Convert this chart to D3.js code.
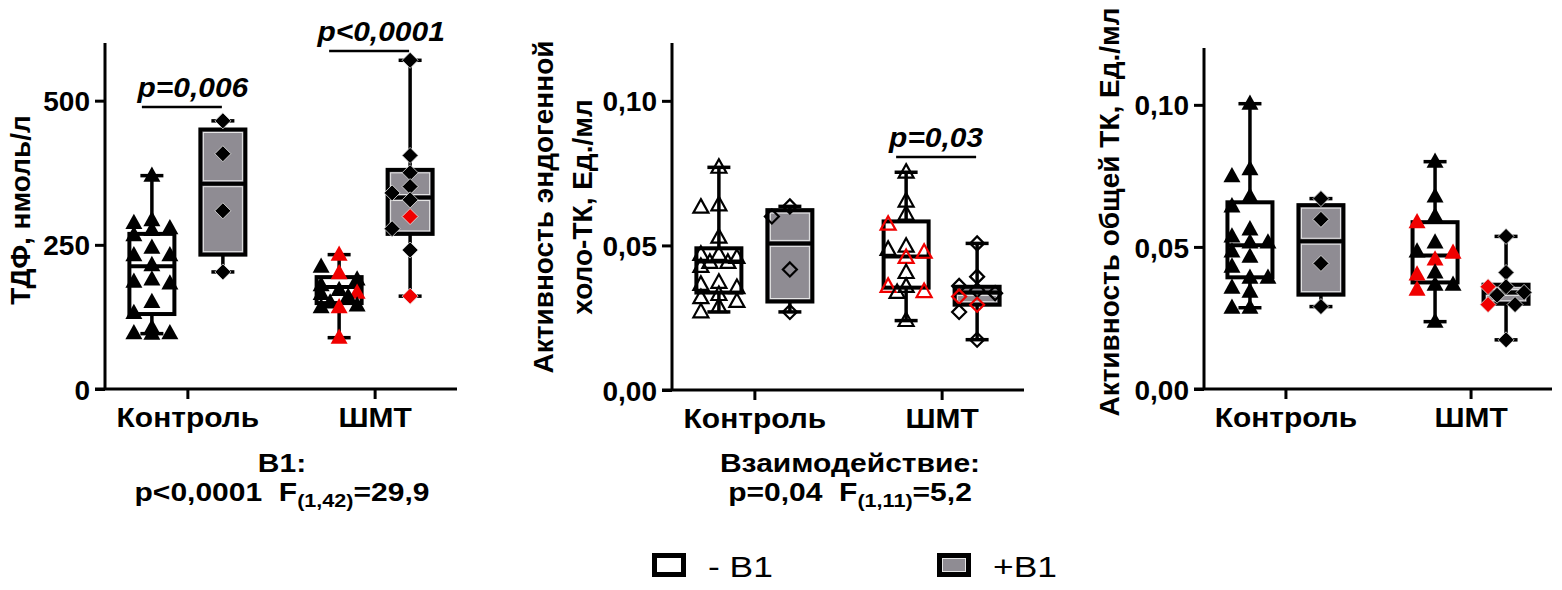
<!DOCTYPE html>
<html>
<head>
<meta charset="utf-8">
<script src="https://cdn.jsdelivr.net/npm/d3@7"></script>
<style>
  html, body { margin: 0; padding: 0; background: #fff; }
  svg { display: block; font-family: "Liberation Sans", Arial, Helvetica, sans-serif; }
</style>
</head>
<body>
<svg id="chart" width="1562" height="590"></svg>
<script>
// ---------------- DATA ----------------
const categories = ["Контроль", "ШМТ"];
const groups = ["-B1", "+B1"];

// Panel 1: ТДФ, нмоль/л
const tdfTicks = [0, 250, 500];
const tdfCtrlNoB1 = [370, 293, 288, 279, 276, 267, 245, 232, 232, 215, 190, 186, 183, 151, 132, 106, 97, 97, 96];
const tdfCtrlNoB1Red = [];
const tdfCtrlB1 = [465, 408, 309, 203];
const tdfCtrlB1Red = [];
const tdfShmtNoB1 = [212, 190, 180, 172, 165, 160, 150, 145, 142];
const tdfShmtNoB1Red = [233, 201, 167, 142, 89];
const tdfShmtB1 = [570, 405, 375, 351, 340, 328, 278, 241];
const tdfShmtB1Red = [299, 161];
// box stats: [min, q1, median, q3, max]
const tdfBoxCtrlNoB1 = [96, 130, 213, 269, 370];
const tdfBoxCtrlB1 = [203, 233, 356, 450, 465];
const tdfBoxShmtNoB1 = [89, 149, 177, 194, 233];
const tdfBoxShmtB1 = [161, 269, 332, 380, 570];

// Panel 2: активность эндогенной холо-ТК, Ед./мл
const tkTicks = [0, 0.05, 0.10];
const holoCtrlNoB1 = [0.077, 0.064, 0.0632, 0.0528, 0.0469, 0.0469, 0.0458, 0.0441, 0.0441, 0.0427, 0.0372, 0.0365, 0.0354, 0.033, 0.0319, 0.0306, 0.0288, 0.027];
const holoCtrlNoB1Red = [];
const holoCtrlB1 = [0.0635, 0.060, 0.0417, 0.027];
const holoCtrlB1Red = [];
const holoShmtNoB1 = [0.0753, 0.0653, 0.0608, 0.0497, 0.0486, 0.0406, 0.0358, 0.0337, 0.024];
const holoShmtNoB1Red = [0.0573, 0.0476, 0.0458, 0.0358, 0.034];
const holoShmtB1 = [0.0507, 0.0392, 0.036, 0.0345, 0.0335, 0.027, 0.0174];
const holoShmtB1Red = [0.0323, 0.0295];
const holoBoxCtrlNoB1 = [0.027, 0.0337, 0.0444, 0.049, 0.077];
const holoBoxCtrlB1 = [0.027, 0.0306, 0.0507, 0.0622, 0.0635];
const holoBoxShmtNoB1 = [0.024, 0.0354, 0.0462, 0.0583, 0.0753];
const holoBoxShmtB1 = [0.0174, 0.0295, 0.0337, 0.0357, 0.0507];

// Panel 3: активность общей ТК, Ед./мл
const totCtrlNoB1 = [0.1004, 0.0774, 0.0749, 0.0678, 0.0643, 0.0562, 0.0537, 0.0516, 0.0516, 0.0484, 0.0466, 0.0431, 0.0392, 0.0392, 0.0357, 0.0343, 0.0286, 0.0286];
const totCtrlNoB1Red = [];
const totCtrlB1 = [0.067, 0.0597, 0.0442, 0.029];
const totCtrlB1Red = [];
const totShmtNoB1 = [0.080, 0.0678, 0.0608, 0.0516, 0.0484, 0.041, 0.0367, 0.0367, 0.0237];
const totShmtNoB1Red = [0.0587, 0.048, 0.0456, 0.0403, 0.035];
const totShmtB1 = [0.0537, 0.041, 0.036, 0.034, 0.033, 0.0297, 0.0173];
const totShmtB1Red = [0.036, 0.0297];
const totBoxCtrlNoB1 = [0.0286, 0.0393, 0.0506, 0.0657, 0.1004];
const totBoxCtrlB1 = [0.029, 0.0332, 0.052, 0.0647, 0.067];
const totBoxShmtNoB1 = [0.0237, 0.0375, 0.047, 0.0587, 0.080];
const totBoxShmtB1 = [0.0173, 0.030, 0.034, 0.0367, 0.0537];

// ---------------- DRAWING ----------------
const svg = d3.select("#chart");
const GRAY = "#8f8c93";
const RED = "#f00000";
const FS = 28;      // main bold font size
const SX = 1.07;    // horizontal stretch of horizontal labels

function fmtComma(d, digits) { return d.toFixed(digits).replace(".", ","); }

function dodge(points, yScale) {
  const placed = [];
  const step = 9, maxOff = 22;
  const cands = [0];
  for (let k = 1; k * step <= maxOff + 0.1; k++) { cands.push(-k * step, k * step); }
  points.sort((a, b) => b.v - a.v).forEach(p => {
    const py = yScale(p.v);
    let best = 0, bestScore = Infinity;
    for (const c of cands) {
      let score = 0;
      for (const q of placed) {
        const dx = Math.abs(q.dx - c), dy = Math.abs(q.py - py);
        if (dx < 15 && dy < 13) score += (15 - dx) * (13 - dy);
      }
      if (score < bestScore - 1e-9) { bestScore = score; best = c; }
      if (score === 0) break;
    }
    p.dx = best; p.py = py;
    placed.push(p);
  });
  return points;
}

function markerPath(shape, size) {
  if (shape === "triangle") {
    const h = size * 0.9, w = size;
    return `M0,${-h * 0.6}L${w / 2},${h * 0.4}L${-w / 2},${h * 0.4}Z`;
  }
  const r = size / 2;
  return `M0,${-r}L${r},0L0,${r}L${-r},0Z`;
}

function drawPanel(cfg) {
  const g = svg.append("g");
  const y = d3.scaleLinear().domain(cfg.domain).range([cfg.y0, cfg.yTop]);
  const x = d3.scalePoint().domain(categories).range([cfg.x0, cfg.x1]).padding(0.44);
  const xs = d3.scaleBand().domain(groups).range([-58, 58]).paddingInner(0.366);
  const bw = xs.bandwidth();

  // axes
  const yAxis = d3.axisLeft(y).tickValues(cfg.ticks).tickSize(10).tickSizeOuter(0).tickPadding(5)
    .tickFormat(cfg.fmt);
  const ga = g.append("g").attr("transform", `translate(${cfg.x0},0)`).call(yAxis);
  ga.select(".domain").attr("d", `M0,${cfg.y0}V${cfg.yTop}`);
  const xAxis = d3.axisBottom(x).tickSize(10).tickSizeOuter(0).tickPadding(8);
  const gx = g.append("g").attr("transform", `translate(0,${cfg.y0})`).call(xAxis);
  gx.select(".domain").attr("d", `M${cfg.x0 - 10},0H${cfg.x1}`);
  [ga, gx].forEach(a => {
    a.selectAll("path, line").attr("stroke", "#000").attr("stroke-width", 3);
    a.selectAll("text").attr("fill", "#000").attr("font-size", FS).attr("font-weight", "bold")
      .attr("font-family", "Liberation Sans, Arial, sans-serif");
  });
  ga.selectAll(".tick text").attr("dy", "0.36em");
  gx.selectAll(".tick text").attr("dy", "0.71em").attr("transform", `scale(${SX},1)`);

  // boxes
  cfg.series.forEach(s => {
    const cx = x(s.cat) + xs(s.grp) + bw / 2;
    const [mn, q1, md, q3, mx] = s.box;
    const gg = g.append("g");
    const left = cx - bw / 2;
    const filled = s.grp === "+B1";
    gg.append("line").attr("x1", cx).attr("x2", cx).attr("y1", y(q3)).attr("y2", y(mx))
      .attr("stroke", "#000").attr("stroke-width", 3.5);
    gg.append("line").attr("x1", cx).attr("x2", cx).attr("y1", y(q1)).attr("y2", y(mn))
      .attr("stroke", "#000").attr("stroke-width", 3.5);
    [mn, mx].forEach(v => gg.append("line").attr("x1", cx - 11.5).attr("x2", cx + 11.5)
      .attr("y1", y(v)).attr("y2", y(v)).attr("stroke", "#000").attr("stroke-width", 3.5));
    gg.append("rect").attr("x", left).attr("y", y(q3)).attr("width", bw).attr("height", y(q1) - y(q3))
      .attr("fill", filled ? GRAY : "#fff").attr("stroke", "none");
    if (filled) {
      [[q3, md], [md, q1]].forEach(([a, b]) => gg.append("rect")
        .attr("x", left + 3).attr("y", y(a) + 3).attr("width", bw - 6).attr("height", Math.max(0, y(b) - y(a) - 6))
        .attr("fill", "none").attr("stroke", "#e6e6e6").attr("stroke-width", 1));
    }
    gg.append("rect").attr("x", left).attr("y", y(q3)).attr("width", bw).attr("height", y(q1) - y(q3))
      .attr("fill", "none").attr("stroke", "#000").attr("stroke-width", 4);
    gg.append("line").attr("x1", left).attr("x2", left + bw).attr("y1", y(md)).attr("y2", y(md))
      .attr("stroke", "#000").attr("stroke-width", 4);

    const pts = s.values.map(v => ({ v, red: false })).concat(s.red.map(v => ({ v, red: true })));
    dodge(pts, y);
    const shape = s.grp === "-B1" ? "triangle" : "diamond";
    const size = shape === "triangle" ? 17 : 16;
    gg.selectAll("path.pt").data(pts).join("path").attr("class", "pt")
      .attr("transform", d => `translate(${cx + d.dx},${d.py})`)
      .attr("d", markerPath(shape, cfg.hollow ? size - 2 : size))
      .attr("fill", d => cfg.hollow ? "none" : (d.red ? RED : "#000"))
      .attr("stroke", d => cfg.hollow ? (d.red ? RED : "#000") : (shape === "diamond" ? "#e6e6e6" : "none"))
      .attr("stroke-width", cfg.hollow ? 2.2 : 0.8);
  });

  // significance brackets
  (cfg.sig || []).forEach(sg => {
    const x1 = x(sg.cat) + xs("-B1") + bw / 2 - 10;
    const x2 = x(sg.cat) + xs("+B1") + bw / 2 - 1;
    g.append("line").attr("x1", x1).attr("x2", x2).attr("y1", sg.y).attr("y2", sg.y)
      .attr("stroke", "#000").attr("stroke-width", 2.5);
    g.append("g").attr("transform", `translate(${(x1 + x2) / 2 + sg.shift},${sg.y - 10}) scale(${SX},1)`)
      .append("text").attr("text-anchor", "middle").attr("font-size", FS).attr("font-weight", "bold")
      .attr("font-style", "italic").text(sg.text);
  });

  // y title
  cfg.title.forEach(t => {
    svg.append("text").attr("transform", `translate(${t.x},${cfg.titleY}) rotate(-90)`)
      .attr("text-anchor", "middle").attr("dominant-baseline", "central")
      .attr("font-size", FS).attr("font-weight", "bold").text(t.text);
  });
}

drawPanel({
  x0: 105, x1: 457, yTop: 43, y0: 389, domain: [0, 600], ticks: tdfTicks,
  fmt: d => String(d), hollow: false,
  title: [{ x: 20, text: "ТДФ, нмоль/л" }], titleY: 210,
  series: [
    { cat: "Контроль", grp: "-B1", values: tdfCtrlNoB1, red: tdfCtrlNoB1Red, box: tdfBoxCtrlNoB1 },
    { cat: "Контроль", grp: "+B1", values: tdfCtrlB1, red: tdfCtrlB1Red, box: tdfBoxCtrlB1 },
    { cat: "ШМТ", grp: "-B1", values: tdfShmtNoB1, red: tdfShmtNoB1Red, box: tdfBoxShmtNoB1 },
    { cat: "ШМТ", grp: "+B1", values: tdfShmtB1, red: tdfShmtB1Red, box: tdfBoxShmtB1 }
  ],
  sig: [
    { cat: "Контроль", y: 107, text: "p=0,006", shift: 11 },
    { cat: "ШМТ", y: 51, text: "p<0,0001", shift: 12 }
  ]
});

drawPanel({
  x0: 672, x1: 1024, yTop: 43, y0: 390, domain: [0, 0.12], ticks: tkTicks,
  fmt: d => fmtComma(d, 2), hollow: true,
  title: [{ x: 543, text: "Активность эндогенной" }, { x: 582, text: "холо-ТК, Ед./мл" }], titleY: 207,
  series: [
    { cat: "Контроль", grp: "-B1", values: holoCtrlNoB1, red: holoCtrlNoB1Red, box: holoBoxCtrlNoB1 },
    { cat: "Контроль", grp: "+B1", values: holoCtrlB1, red: holoCtrlB1Red, box: holoBoxCtrlB1 },
    { cat: "ШМТ", grp: "-B1", values: holoShmtNoB1, red: holoShmtNoB1Red, box: holoBoxShmtNoB1 },
    { cat: "ШМТ", grp: "+B1", values: holoShmtB1, red: holoShmtB1Red, box: holoBoxShmtB1 }
  ],
  sig: [{ cat: "ШМТ", y: 157, text: "p=0,03", shift: 0 }]
});

drawPanel({
  x0: 1204, x1: 1552, yTop: 48, y0: 389, domain: [0, 0.12], ticks: tkTicks,
  fmt: d => fmtComma(d, 2), hollow: false,
  title: [{ x: 1109, text: "Активность общей ТК, Ед./мл" }], titleY: 212,
  series: [
    { cat: "Контроль", grp: "-B1", values: totCtrlNoB1, red: totCtrlNoB1Red, box: totBoxCtrlNoB1 },
    { cat: "Контроль", grp: "+B1", values: totCtrlB1, red: totCtrlB1Red, box: totBoxCtrlB1 },
    { cat: "ШМТ", grp: "-B1", values: totShmtNoB1, red: totShmtNoB1Red, box: totBoxShmtNoB1 },
    { cat: "ШМТ", grp: "+B1", values: totShmtB1, red: totShmtB1Red, box: totBoxShmtB1 }
  ]
});

// ---------------- ANNOTATIONS ----------------
const AFS = 25, ASX = 1.2;
function statText(cx, yHead, head, pTxt, sub, fVal) {
  svg.append("g").attr("transform", `translate(${cx},${yHead}) scale(${ASX},1)`)
    .append("text").attr("text-anchor", "middle")
    .attr("font-size", AFS).attr("font-weight", "bold").text(head);
  const t = svg.append("g").attr("transform", `translate(${cx},${yHead + 29}) scale(${ASX},1)`)
    .append("text").attr("text-anchor", "middle")
    .attr("font-size", AFS).attr("font-weight", "bold");
  t.append("tspan").text(pTxt + "\u00a0\u00a0F");
  t.append("tspan").attr("dy", 6).attr("font-size", 18).text(sub);
  t.append("tspan").attr("dy", -6).text("=" + fVal);
}
statText(282, 472, "B1:", "p<0,0001", "(1,42)", "29,9");
statText(850, 472, "Взаимодействие:", "p=0,04", "(1,11)", "5,2");

// legend
const legend = [{ label: "- B1", fill: "#fff", x: 652 }, { label: "+B1", fill: GRAY, x: 937 }];
legend.forEach(l => {
  svg.append("rect").attr("x", l.x + 2.5).attr("y", 555.5).attr("width", 29).attr("height", 19)
    .attr("fill", l.fill).attr("stroke", "#000").attr("stroke-width", 5);
  if (l.fill !== "#fff") {
    svg.append("rect").attr("x", l.x + 5.5).attr("y", 558.5).attr("width", 23).attr("height", 13)
      .attr("fill", "none").attr("stroke", "#e6e6e6").attr("stroke-width", 1);
  }
  svg.append("g").attr("transform", `translate(${l.x + 56},577) scale(1.18,1)`)
    .append("text").attr("font-size", 30).text(l.label);
});
</script>
</body>
</html>
